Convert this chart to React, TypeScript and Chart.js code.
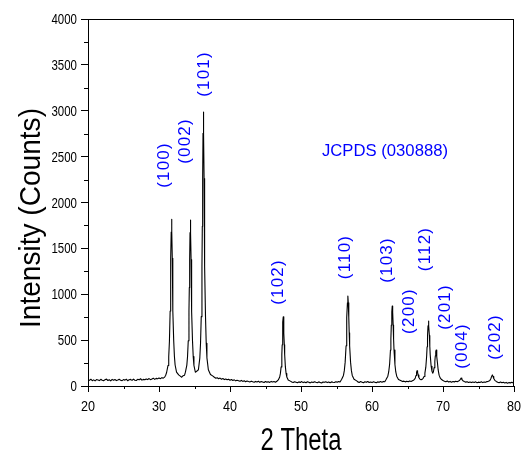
import { useEffect, useRef } from 'react';
import { Chart, registerables } from 'chart.js';

Chart.register(...registerables);

// ---- data: [2θ (deg), intensity (counts)] ----
const lowAngle: [number, number][] = [
  [20.0, 71], [20.2, 61], [20.4, 74], [20.6, 58], [20.8, 67], [21.0, 56], [21.2, 70], [21.4, 66],
  [21.6, 59], [21.8, 73], [22.0, 62], [22.2, 57], [22.4, 69], [22.6, 75], [22.8, 60], [23.0, 68],
  [23.2, 56], [23.4, 72], [23.6, 63], [23.8, 71], [24.0, 59], [24.2, 66], [24.4, 74], [24.6, 62],
  [24.8, 58], [25.0, 70], [25.2, 64], [25.4, 74], [25.6, 57], [25.8, 69], [26.0, 72], [26.2, 61],
  [26.4, 75], [26.6, 63], [26.8, 60], [27.0, 73], [27.2, 67], [27.4, 79], [27.6, 64], [27.8, 72],
  [28.0, 68], [28.2, 77], [28.4, 70], [28.6, 81], [28.8, 69], [29.0, 76], [29.2, 85], [29.4, 72],
  [29.6, 83], [29.8, 78], [30.0, 88], [30.2, 80], [30.4, 91], [30.6, 86], [30.8, 97], [30.95, 118],
];

const mainTriplet: [number, number][] = [
  [31.07, 147], [31.27, 224], [31.37, 319], [31.47, 491], [31.57, 818], [31.62, 1077], [31.67, 1387],
  [31.72, 1679], [31.77, 1817], [31.82, 1684], [31.87, 1392], [31.92, 1082], [31.97, 823], [32.07, 496],
  [32.17, 324], [32.27, 229], [32.47, 152], [32.77, 121], [33.0, 108], [33.2, 96], [33.4, 112], [33.6, 118],
  [33.72, 151], [33.92, 228], [34.02, 322], [34.12, 493], [34.22, 818], [34.27, 1074], [34.32, 1382],
  [34.37, 1672], [34.42, 1809], [34.47, 1667], [34.52, 1377], [34.57, 1070], [34.62, 813], [34.72, 490],
  [34.82, 320], [34.92, 225], [35.12, 150], [35.3, 160], [35.55, 177], [35.75, 307], [35.85, 466],
  [35.95, 756], [36.05, 1306], [36.1, 1741], [36.15, 2262], [36.2, 2754], [36.25, 2986], [36.3, 2754],
  [36.35, 2262], [36.4, 1741], [36.45, 1306], [36.55, 756], [36.65, 466], [36.75, 307], [36.95, 177],
  [37.25, 125], [37.6, 108],
];

const midAngle: [number, number][] = [
  [37.8, 95], [38.0, 84], [38.2, 90], [38.4, 79], [38.6, 86], [38.8, 74], [39.0, 81], [39.2, 70],
  [39.4, 77], [39.6, 68], [39.8, 74], [40.0, 63], [40.2, 70], [40.4, 60], [40.6, 67], [40.8, 56],
  [41.0, 63], [41.2, 58], [41.4, 52], [41.6, 61], [41.8, 50], [42.0, 57], [42.2, 47], [42.4, 55],
  [42.6, 49], [42.8, 44], [43.0, 53], [43.2, 46], [43.4, 41], [43.6, 50], [43.8, 43], [44.0, 52],
  [44.2, 40], [44.4, 48], [44.6, 44], [44.8, 38], [45.0, 49], [45.2, 42], [45.4, 47], [45.6, 39],
  [45.8, 50], [46.0, 43], [46.2, 48], [46.4, 41], [46.6, 52],
  [46.8, 66], [47.0, 98], [47.1, 137], [47.2, 208], [47.3, 343], [47.35, 450], [47.4, 578], [47.45, 698],
  [47.5, 755], [47.55, 698], [47.6, 578], [47.65, 450], [47.7, 343], [47.8, 208], [47.9, 137], [48.0, 98],
  [48.2, 66], [48.5, 53],
  [48.7, 44], [48.9, 38], [49.1, 47], [49.3, 41], [49.5, 35], [49.7, 45], [49.9, 39], [50.1, 48],
  [50.3, 37], [50.5, 43], [50.7, 36], [50.9, 46], [51.1, 40], [51.3, 34], [51.5, 44], [51.7, 38],
  [51.9, 47], [52.1, 41], [52.3, 36], [52.5, 45], [52.7, 39], [52.9, 33], [53.1, 44], [53.3, 40],
  [53.5, 47], [53.7, 37], [53.9, 43], [54.1, 35], [54.3, 45], [54.5, 41], [54.7, 38], [54.9, 46],
  [55.1, 42], [55.3, 48], [55.5, 44],
];

const highAngle: [number, number][] = [
  [55.73, 73], [55.98, 115], [56.1, 167], [56.22, 260], [56.35, 438], [56.41, 579], [56.47, 747],
  [56.54, 906], [56.6, 981], [56.66, 906], [56.73, 747], [56.79, 579], [56.85, 438], [56.98, 260],
  [57.1, 167], [57.22, 115], [57.47, 73], [57.85, 56],
  [58.0, 45], [58.2, 39], [58.4, 48], [58.6, 42], [58.8, 36], [59.0, 46], [59.2, 40], [59.4, 49],
  [59.6, 38], [59.8, 44], [60.0, 37], [60.2, 47], [60.4, 41], [60.6, 35], [60.8, 45], [61.0, 40],
  [61.2, 48], [61.4, 42], [61.6, 50], [61.8, 46],
  [61.98, 70], [62.23, 107], [62.35, 153], [62.48, 235], [62.6, 392], [62.66, 516], [62.72, 665],
  [62.79, 806], [62.85, 872], [62.91, 806], [62.98, 665], [63.04, 516], [63.1, 392], [63.23, 235],
  [63.35, 153], [63.48, 107], [63.73, 70], [64.1, 56],
  [64.3, 48], [64.5, 53], [64.7, 45], [64.9, 51], [65.1, 47], [65.3, 55], [65.5, 50], [65.7, 58],
  [65.9, 66], [66.0, 74], [66.1, 88], [66.2, 115], [66.28, 150], [66.35, 167], [66.42, 150], [66.5, 118],
  [66.6, 92], [66.75, 75], [66.9, 68], [67.05, 72], [67.2, 84], [67.33, 104], [67.45, 140], [67.58, 205],
  [67.7, 329], [67.76, 427], [67.82, 545], [67.89, 656], [67.95, 708], [68.01, 660], [68.08, 551],
  [68.14, 435], [68.2, 339], [68.33, 215], [68.45, 160], [68.55, 140], [68.65, 155], [68.75, 200],
  [68.85, 270], [68.92, 330], [68.98, 375], [69.03, 392], [69.09, 370], [69.15, 320], [69.22, 250],
  [69.32, 175], [69.45, 118], [69.6, 88], [69.8, 70], [70.0, 60],
];

const tailAngle: [number, number][] = [
  [70.2, 52], [70.4, 47], [70.6, 55], [70.8, 44], [71.0, 50], [71.2, 42], [71.4, 49], [71.6, 45],
  [71.8, 51], [72.0, 47], [72.2, 55], [72.35, 62], [72.45, 74], [72.55, 86], [72.65, 73], [72.8, 58],
  [73.0, 49], [73.2, 42], [73.4, 47], [73.6, 39], [73.8, 44], [74.0, 37], [74.2, 43], [74.4, 38],
  [74.6, 45], [74.8, 36], [75.0, 42], [75.2, 39], [75.4, 46], [75.6, 37], [75.8, 43], [76.0, 40],
  [76.2, 48], [76.4, 52], [76.6, 60], [76.75, 82], [76.85, 105], [76.95, 121], [77.05, 104], [77.15, 82],
  [77.3, 62], [77.5, 50], [77.7, 41], [77.9, 36], [78.1, 43], [78.3, 35], [78.5, 40], [78.7, 33],
  [78.9, 39], [79.1, 31], [79.3, 37], [79.5, 34], [79.7, 40], [79.9, 32], [80.0, 36],
];

// peak labels: [text, 2θ, counts] (centre of the rotated label)
const peakLabels: [string, number, number][] = [
  ['(100)', 30.85, 2409], ['(002)', 33.8, 2670], ['(101)', 36.48, 3401], ['(102)', 46.9, 1134],
  ['(110)', 56.34, 1406], ['(103)', 62.25, 1373], ['(200)', 65.35, 817], ['(112)', 67.61, 1493],
  ['(201)', 70.42, 861], ['(004)', 72.82, 436], ['(202)', 77.46, 534],
];
const cardLabel: [string, number, number] = ['JCPDS (030888)', 61.83, 2556];

const xTicks = [20, 30, 40, 50, 60, 70, 80];
const xMinor = [25, 35, 45, 55, 65, 75];
const yTicks = [0, 500, 1000, 1500, 2000, 2500, 3000, 3500, 4000];
const yMinor = [250, 750, 1250, 1750, 2250, 2750, 3250, 3750];
const xTitle = '2 Theta';
const yTitle = 'Intensity (Counts)';

const FONT = "'Liberation Sans', Arial, sans-serif";

function squeezed(ctx: CanvasRenderingContext2D, text: string, x: number, y: number, sx: number, align: CanvasTextAlign) {
  ctx.save();
  ctx.translate(x, y);
  ctx.scale(sx, 1);
  ctx.textAlign = align;
  ctx.fillText(text, 0, 0);
  ctx.restore();
}

const decor = {
  id: 'decor',
  afterDraw(chart: any) {
    const { ctx, chartArea: a, scales } = chart;
    const xs = scales.x;
    const ys = scales.y;
    ctx.save();
    ctx.strokeStyle = '#000';
    ctx.lineWidth = 1;
    ctx.beginPath();
    ctx.moveTo(a.left, a.top + 0.5);
    ctx.lineTo(a.right, a.top + 0.5);
    ctx.moveTo(a.right - 0.5, a.top);
    ctx.lineTo(a.right - 0.5, a.bottom);
    for (const v of yMinor) {
      const p = Math.round(ys.getPixelForValue(v)) + 0.5;
      ctx.moveTo(a.left - 4, p);
      ctx.lineTo(a.left, p);
    }
    for (const v of xMinor) {
      const p = Math.round(xs.getPixelForValue(v)) + 0.5;
      ctx.moveTo(p, a.bottom);
      ctx.lineTo(p, a.bottom + 3);
    }
    ctx.stroke();

    ctx.fillStyle = '#000';
    ctx.textBaseline = 'alphabetic';
    ctx.font = `14px ${FONT}`;
    for (const v of yTicks) {
      squeezed(ctx, String(v), a.left - 11, ys.getPixelForValue(v) + 5, 0.82, 'right');
    }
    ctx.font = `15px ${FONT}`;
    for (const v of xTicks) {
      squeezed(ctx, String(v), xs.getPixelForValue(v), a.bottom + 25, 0.84, 'center');
    }

    // axis titles
    ctx.font = `31px ${FONT}`;
    const wx = ctx.measureText(xTitle).width;
    squeezed(ctx, xTitle, (a.left + a.right) / 2, 450, 81 / wx, 'center');
    ctx.font = `30px ${FONT}`;
    const wy = ctx.measureText(yTitle).width;
    ctx.save();
    ctx.translate(40, 218);
    ctx.rotate(-Math.PI / 2);
    squeezed(ctx, yTitle, 0, 0, 220 / wy, 'center');
    ctx.restore();

    // peak labels
    ctx.fillStyle = '#0000ff';
    ctx.font = `17px ${FONT}`;
    for (const [t, lx, ly] of peakLabels) {
      const px = xs.getPixelForValue(lx);
      const py = ys.getPixelForValue(ly);
      ctx.save();
      ctx.translate(px + 4.4, py);
      ctx.rotate(-Math.PI / 2);
      (ctx as any).letterSpacing = '1.2px';
      ctx.textAlign = 'center';
      ctx.fillText(t, 0, 0);
      ctx.restore();
    }
    ctx.font = `17px ${FONT}`;
    const wc = ctx.measureText(cardLabel[0]).width;
    squeezed(ctx, cardLabel[0], xs.getPixelForValue(cardLabel[1]), ys.getPixelForValue(cardLabel[2]) + 4.4, 126 / wc, 'center');
    ctx.restore();
  },
};

export default function App() {
  const ref = useRef<HTMLCanvasElement | null>(null);
  useEffect(() => {
    if (!ref.current) return;
    const points = [...lowAngle, ...mainTriplet, ...midAngle, ...highAngle, ...tailAngle].map(([x, y]) => ({ x, y }));
    const chart = new Chart(ref.current, {
      type: 'line',
      data: {
        datasets: [
          {
            data: points,
            borderColor: '#000',
            borderWidth: 1.1,
            borderJoinStyle: 'round',
            borderCapStyle: 'round',
            pointRadius: 0,
            tension: 0,
            fill: false,
          },
        ],
      },
      options: {
        animation: false,
        responsive: false,
        events: [],
        layout: { padding: { left: 0, top: 19, right: 9, bottom: 0 } },
        plugins: { legend: { display: false }, tooltip: { enabled: false }, title: { display: false } },
        scales: {
          x: {
            type: 'linear',
            min: 20,
            max: 80,
            ticks: { stepSize: 10, display: false },
            grid: { display: true, drawOnChartArea: false, drawTicks: true, tickLength: 6, color: '#000', tickColor: '#000' },
            border: { display: true, color: '#000', width: 1 },
            afterFit: (s: any) => { s.height = 67; },
          },
          y: {
            type: 'linear',
            min: 0,
            max: 4000,
            ticks: { stepSize: 500, display: false },
            grid: { display: true, drawOnChartArea: false, drawTicks: true, tickLength: 7, color: '#000', tickColor: '#000' },
            border: { display: true, color: '#000', width: 1 },
            afterFit: (s: any) => { s.width = 88; },
          },
        },
      },
      plugins: [decor],
    });
    return () => chart.destroy();
  }, []);
  return (
    <div style={{ position: 'fixed', left: 0, top: 0, width: 523, height: 453, background: '#fff' }}>
      <canvas ref={ref} width={523} height={453} style={{ display: 'block' }} />
    </div>
  );
}
